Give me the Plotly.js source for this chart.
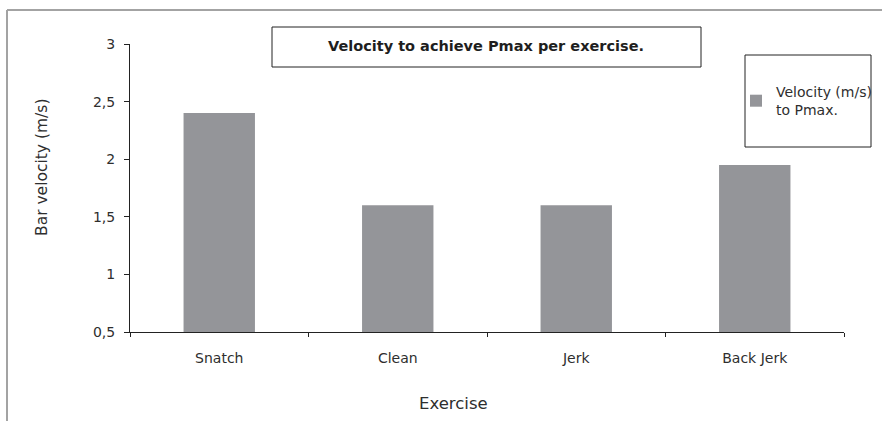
<!DOCTYPE html>
<html>
<head>
<meta charset="utf-8">
<script src="https://cdn.plot.ly/plotly-3.0.1.min.js"></script>
<style>html,body{margin:0;padding:0;background:#fff;}#chart{width:882px;height:421px;}</style>
</head>
<body>
<div id="chart"></div>
<script>
const exercises = ["Snatch", "Clean", "Jerk", "Back Jerk"];
const velocity = [2.40, 1.60, 1.60, 1.95];
const seriesName = "Velocity (m/s)<br>to Pmax.";
const chartTitle = "Velocity to achieve Pmax per exercise.";
const xTitle = "Exercise";
const yTitle = "Bar velocity (m/s)";
const yTickVals = [0.5, 1, 1.5, 2, 2.5, 3];

const FONT = "'DejaVu Sans', 'Open Sans', sans-serif";
const TXT = "#2e2e2e";

const trace = {
  type: "bar",
  x: exercises,
  y: velocity,
  name: seriesName,
  marker: {color: "#949599", line: {width: 0}},
  hoverinfo: "x+y"
};

// pixel helpers for decorative boxes (paper coords)
const L = 130, R = 38, T = 44, B = 89, W = 882, H = 421;
const pw = W - L - R, ph = H - T - B;
const px = v => (v - L) / pw;
const py = v => (H - B - v) / ph;

const layout = {
  width: W, height: H,
  margin: {l: L, r: R, t: T, b: B, pad: 0, autoexpand: false},
  paper_bgcolor: "#ffffff",
  plot_bgcolor: "#ffffff",
  separators: ",.",
  font: {family: FONT, color: TXT, size: 14},
  bargap: 0.6,
  showlegend: true,
  title: {
    text: "<b>" + chartTitle + "</b>",
    font: {family: FONT, size: 14.5, color: "#1e1e1e"},
    xref: "container", yref: "container",
    x: 486 / W, y: 1 - 46 / H,
    xanchor: "center", yanchor: "middle"
  },
  xaxis: {
    type: "category",
    showline: true, linecolor: "#222222", linewidth: 1,
    ticks: "outside", ticklen: 4, tickcolor: "#222222",
    tickson: "boundaries",
    showgrid: false, zeroline: false,
    tickfont: {family: FONT, size: 14, color: TXT},
    ticklabelstandoff: 13,
    automargin: false,
    fixedrange: true
  },
  yaxis: {
    range: [0.5, 3],
    tickvals: yTickVals,
    showline: true, linecolor: "#222222", linewidth: 1,
    ticks: "outside", ticklen: 5, tickcolor: "#222222",
    showgrid: false, zeroline: false,
    tickfont: {family: FONT, size: 14, color: TXT},
    ticklabelstandoff: 6,
    automargin: false,
    fixedrange: true
  },
  legend: {
    x: px(736), xanchor: "left",
    y: py(76), yanchor: "top",
    bgcolor: "rgba(0,0,0,0)",
    borderwidth: 0,
    font: {family: FONT, size: 14, color: TXT},
    itemwidth: 30,
    tracegroupgap: 0
  },
  annotations: [
    {text: xTitle, xref: "paper", yref: "paper", x: px(453), y: py(403),
     xanchor: "center", yanchor: "middle", showarrow: false,
     font: {family: FONT, size: 16.5, color: TXT}},
    {text: yTitle, xref: "paper", yref: "paper", x: px(42), y: py(168),
     xanchor: "center", yanchor: "middle", showarrow: false, textangle: -90,
     font: {family: FONT, size: 15.5, color: TXT}}
  ],
  shapes: [
    {type: "line", xref: "paper", yref: "paper", x0: px(7), x1: px(900), y0: py(10), y1: py(10),
     line: {color: "#a3a3a3", width: 2}, layer: "below"},
    {type: "line", xref: "paper", yref: "paper", x0: px(7), x1: px(7), y0: py(10), y1: py(440),
     line: {color: "#a3a3a3", width: 2}, layer: "below"},
    {type: "rect", xref: "paper", yref: "paper", x0: px(272), x1: px(701), y0: py(27), y1: py(67),
     line: {color: "#222222", width: 1}, fillcolor: "rgba(0,0,0,0)", layer: "above"},
    {type: "rect", xref: "paper", yref: "paper", x0: px(745), x1: px(871), y0: py(55), y1: py(147),
     line: {color: "#222222", width: 1}, fillcolor: "#ffffff", layer: "below"}
  ]
};

Plotly.newPlot("chart", [trace], layout, {displayModeBar: false, staticPlot: true});
</script>
</body>
</html>
